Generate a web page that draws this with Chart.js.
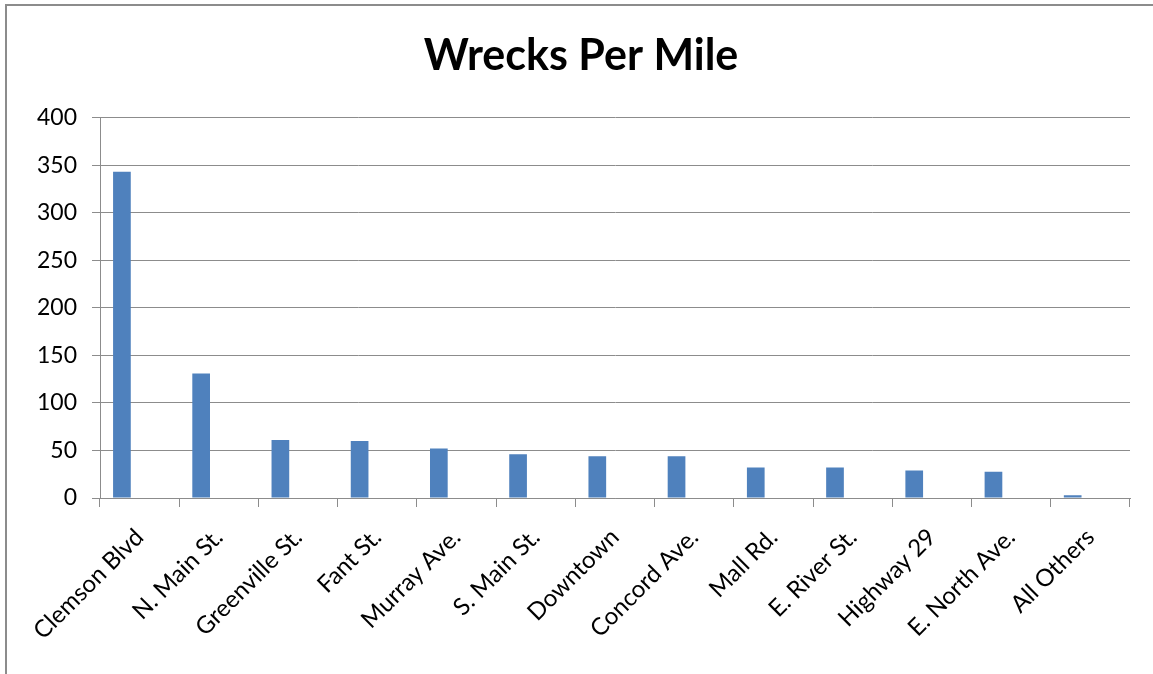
<!DOCTYPE html>
<html>
<head>
<meta charset="utf-8">
<title>Wrecks Per Mile</title>
<script src="https://cdn.jsdelivr.net/npm/chart.js@4"></script>
<style>
    html, body { margin: 0; padding: 0; background: #ffffff; overflow: hidden; }
    #frame {
        position: absolute; left: 5px; top: 4px; width: 1200px; height: 700px;
        border-left: 2px solid #8c8c8c; border-top: 2px solid #8c8c8c;
        pointer-events: none;
    }
    #wrap { position: absolute; left: 0; top: 0; width: 1153px; height: 674px; }
</style>
</head>
<body>
<div id="wrap"><canvas id="wrecksChart"></canvas></div>
<div id="frame"></div>
<script>
// Chart data
const roadNames = [
    'Clemson Blvd', 'N. Main St.', 'Greenville St.', 'Fant St.', 'Murray Ave.',
    'S. Main St.', 'Downtown', 'Concord Ave.', 'Mall Rd.', 'E. River St.',
    'Highway 29', 'E. North Ave.', 'All Others'
];
const wrecksPerMile = [343, 131, 61, 60, 52, 46, 44, 44, 32, 32, 29, 27.5, 3];
// the source sheet had two more (empty) series, which is why bars sit left of centre
const emptySeriesA = [];
const emptySeriesB = [];
const yTicks = [0, 50, 100, 150, 200, 250, 300, 350, 400];

const labelFont = "Lato, 'Open Sans', sans-serif";
const gridGrey = '#8c8c8c';
const barBlue = '#4f81bd';

const ctx = document.getElementById('wrecksChart').getContext('2d');

new Chart(ctx, {
    type: 'bar',
    data: {
        labels: roadNames,
        datasets: [
            { label: 'Wrecks Per Mile', data: wrecksPerMile, backgroundColor: barBlue },
            { label: '', data: emptySeriesA, backgroundColor: barBlue },
            { label: '', data: emptySeriesB, backgroundColor: barBlue }
        ]
    },
    options: {
        responsive: true,
        maintainAspectRatio: false,
        animation: false,
        datasets: {
            bar: { borderWidth: 0, barPercentage: 1, categoryPercentage: 0.67 }
        },
        // left padding keeps the title centred where the original had it
        layout: { padding: { left: 32, right: 23, top: 0, bottom: 0 } },
        plugins: {
            legend: { display: false },
            tooltip: { enabled: false },
            title: {
                display: true,
                text: 'Wrecks Per Mile',
                color: '#000000',
                font: { family: labelFont, size: 43, weight: 'bold' },
                padding: { top: 30, bottom: 36 }
            }
        },
        scales: {
            x: {
                offset: true,
                afterFit: scale => { scale.height = 176; },
                border: { color: gridGrey, width: 1 },
                grid: {
                    offset: true,
                    drawOnChartArea: false,
                    tickLength: 9,
                    color: gridGrey
                },
                ticks: {
                    color: '#000000',
                    font: { family: labelFont, size: 24 },
                    minRotation: 45,
                    maxRotation: 45,
                    padding: 16,
                    autoSkip: false
                }
            },
            y: {
                min: 0,
                max: 400,
                afterFit: scale => { scale.width = 68; },
                afterBuildTicks: scale => {
                    scale.ticks = yTicks.map(v => ({ value: v }));
                },
                border: { color: gridGrey, width: 1 },
                grid: {
                    color: gridGrey,
                    lineWidth: 1,
                    tickLength: 8
                },
                ticks: {
                    color: '#000000',
                    font: { family: labelFont, size: 23 },
                    padding: 15
                }
            }
        }
    }
});
</script>
</body>
</html>
